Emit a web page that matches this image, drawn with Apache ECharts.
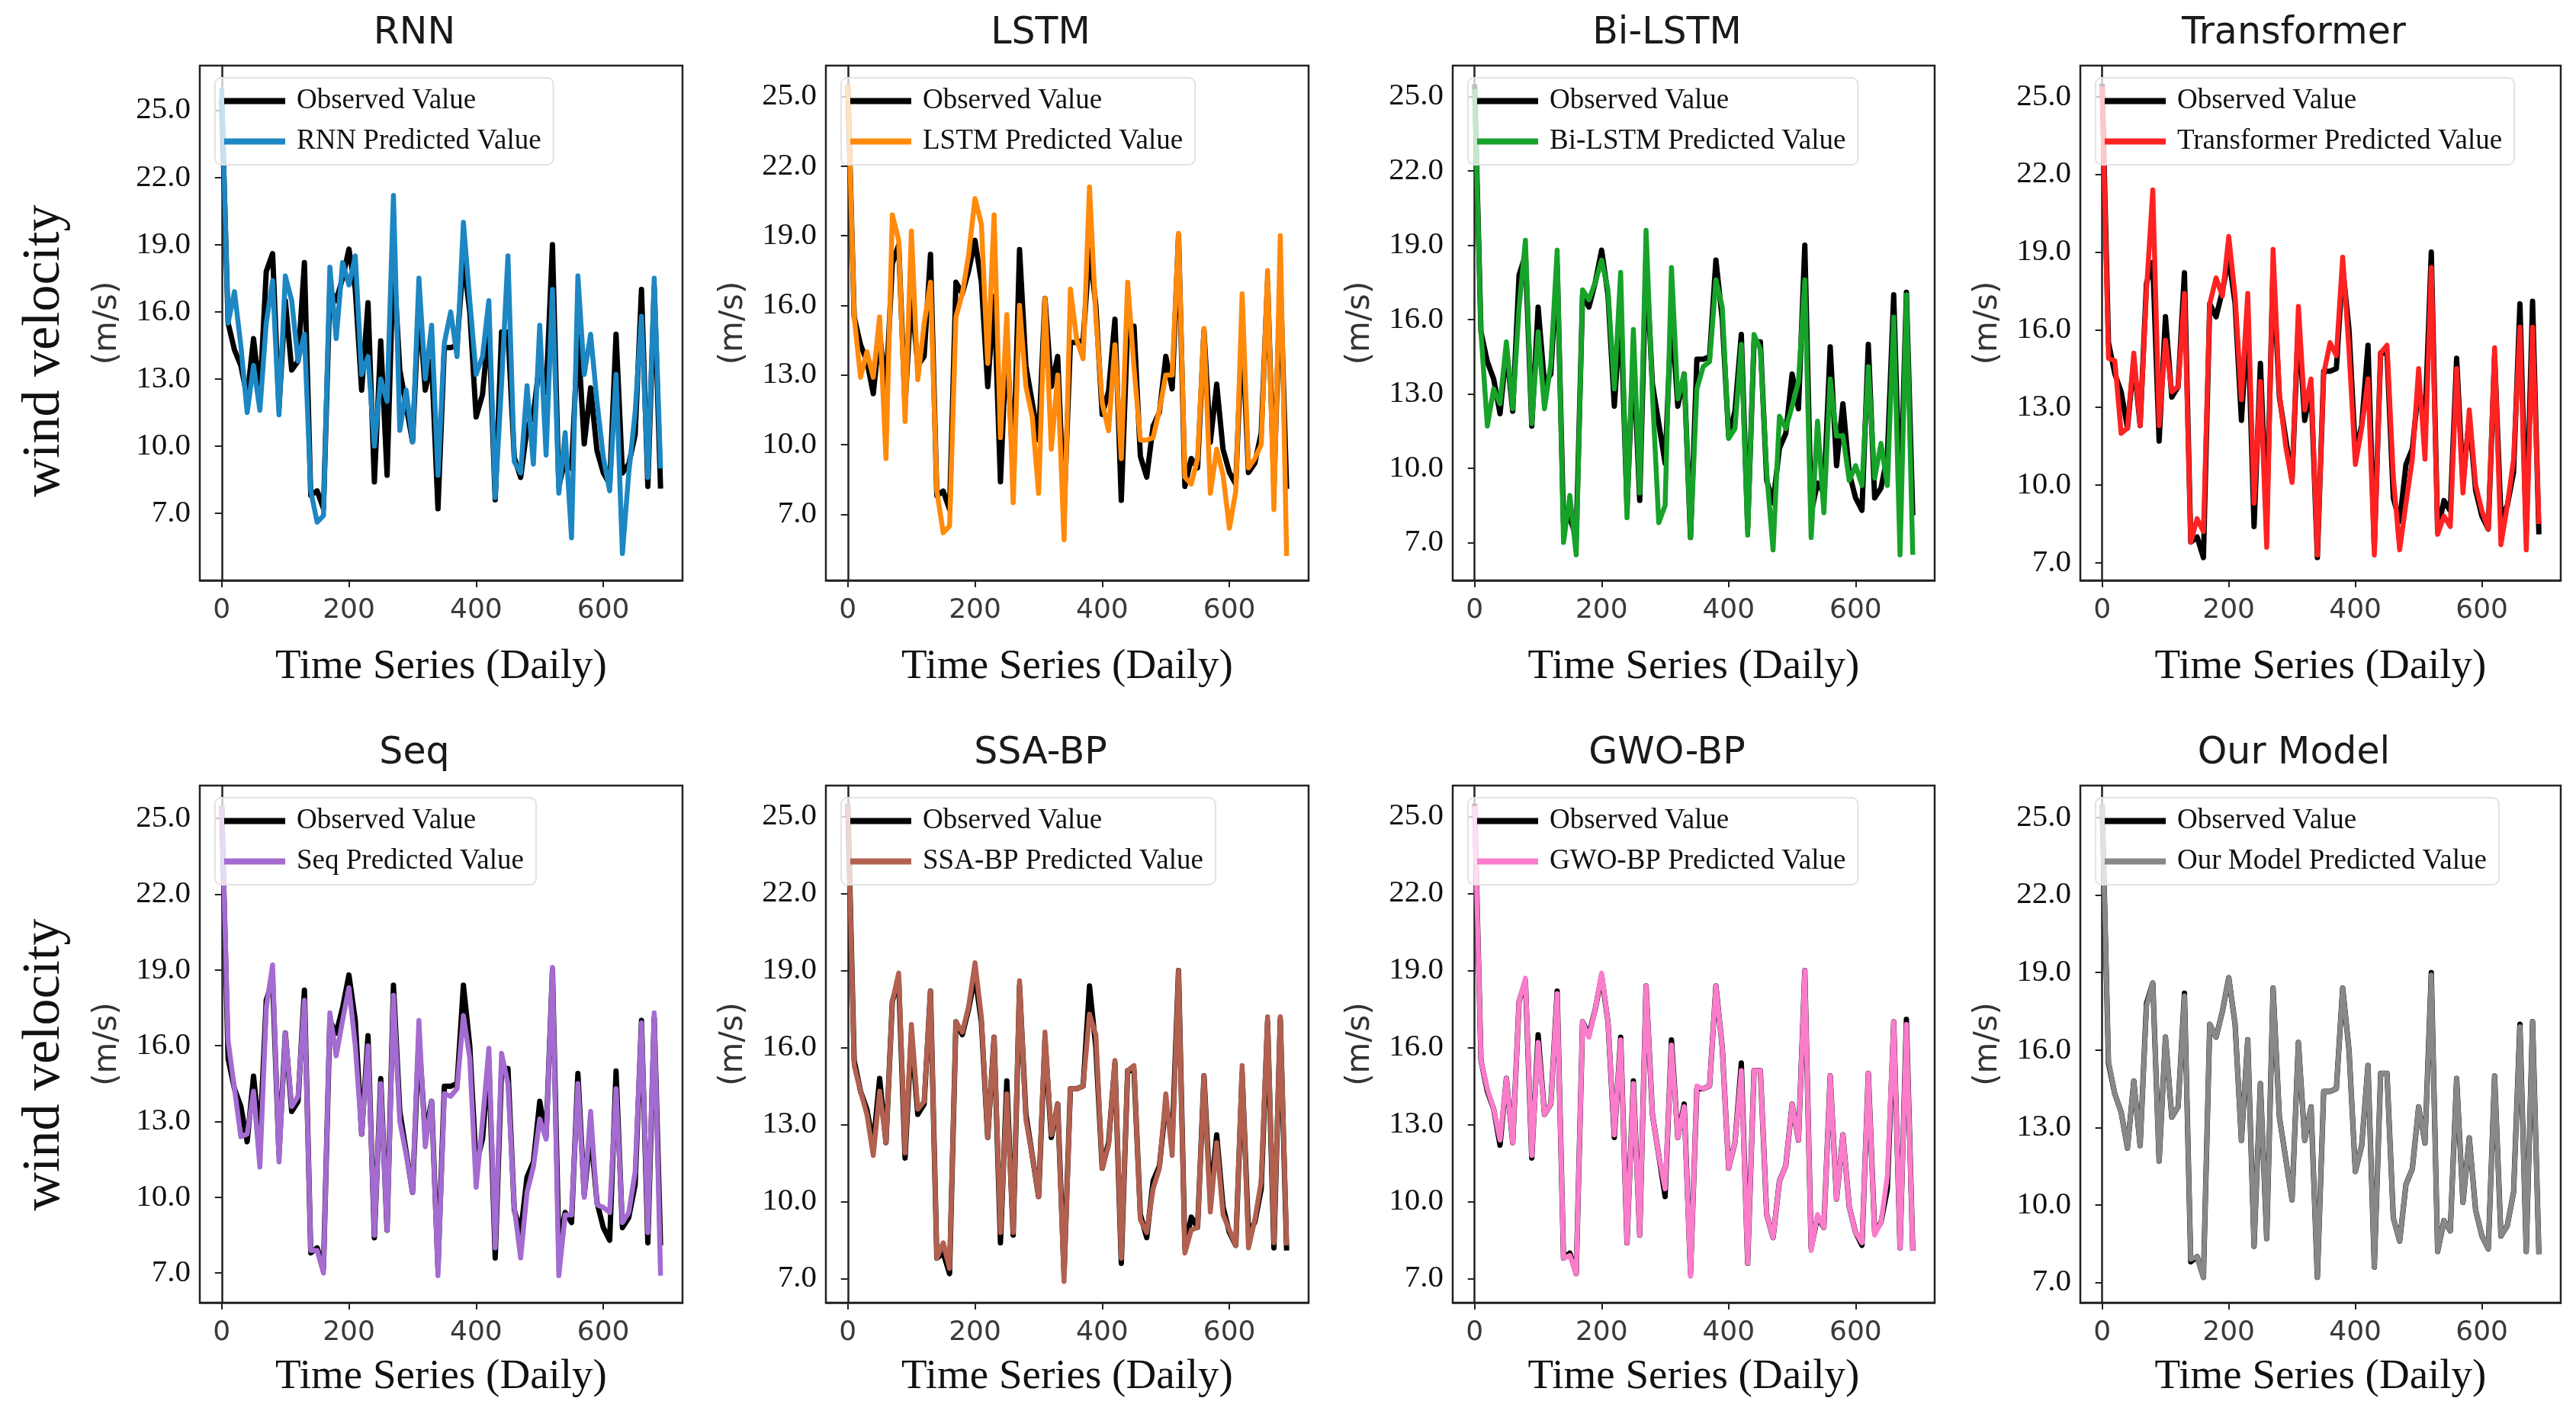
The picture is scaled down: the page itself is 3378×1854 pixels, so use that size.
<!DOCTYPE html>
<html>
<head>
<meta charset="utf-8">
<title>wind velocity</title>
<script src="https://cdn.jsdelivr.net/npm/echarts@6/dist/echarts.min.js"></script>
<style>
  html, body { margin: 0; padding: 0; background: #fff; }
  #main { width: 3378px; height: 1854px; }
</style>
</head>
<body>
<div id="main"></div>
<script>
// 时间轴（天）
var days = [0, 10, 20, 30, 40, 50, 60, 70, 80, 90,
  100, 110, 120, 130, 140, 150, 160, 170, 180, 190,
  200, 210, 220, 230, 240, 250, 260, 270, 280, 290,
  300, 310, 320, 330, 340, 350, 360, 370, 380, 390,
  400, 410, 420, 430, 440, 450, 460, 470, 480, 490,
  500, 510, 520, 530, 540, 550, 560, 570, 580, 590,
  600, 610, 620, 630, 640, 650, 660, 670, 680, 690];

var xTicks = [0, 200, 400, 600];
var yTicks = [7, 10, 13, 16, 19, 22, 25];

// 观测值
var observed = [25.5, 15.5, 14.3, 13.6, 12.2, 14.8, 12.3, 17.8, 18.6, 11.7,
  16.5, 13.4, 13.8, 18.2, 7.8, 8.0, 7.2, 17.0, 16.5, 17.5,
  18.8, 17.0, 12.5, 16.4, 8.4, 14.7, 8.7, 18.4, 13.4, 11.8,
  10.2, 16.3, 12.5, 13.8, 7.2, 14.4, 14.4, 14.5, 18.4, 16.0,
  11.3, 12.3, 15.4, 7.6, 15.1, 15.1, 9.5, 8.6, 10.8, 11.4,
  13.8, 12.4, 19.0, 8.2, 9.4, 9.0, 14.9, 10.1, 12.6, 9.8,
  8.8, 8.3, 15.0, 8.8, 9.2, 10.5, 17.0, 8.2, 17.1, 8.1];

// 各模型预测值
var rnnPred = [26.0, 15.5, 16.9, 14.5, 11.5, 13.6, 11.6, 15.5, 17.4, 11.4,
  17.6, 16.5, 13.8, 15.0, 8.0, 6.6, 6.9, 18.0, 14.8, 18.2,
  17.2, 18.5, 13.2, 14.0, 10.0, 13.0, 12.0, 21.2, 10.7, 12.5,
  10.2, 17.5, 13.0, 15.4, 8.7, 14.6, 16.0, 14.0, 20.0, 16.5,
  13.2, 14.0, 16.5, 7.7, 12.8, 18.5, 9.3, 8.8, 12.7, 9.2,
  15.4, 9.6, 17.0, 7.9, 10.6, 5.9, 17.6, 13.2, 15.0, 12.0,
  9.5, 8.0, 13.2, 5.2, 8.8, 11.5, 15.8, 8.6, 17.5, 9.0];

var lstmPred = [25.5, 15.5, 12.9, 14.0, 12.9, 15.5, 9.4, 19.9, 18.8, 11.0,
  19.2, 12.8, 15.2, 17.0, 8.0, 6.2, 6.5, 15.5, 16.5, 18.2,
  20.6, 19.5, 13.5, 19.9, 10.3, 15.6, 7.5, 16.0, 12.5, 11.2,
  7.9, 16.3, 9.8, 13.0, 5.9, 16.7, 14.5, 13.7, 21.1, 15.5,
  11.8, 10.6, 14.3, 9.4, 17.0, 13.3, 10.2, 10.2, 10.3, 11.5,
  13.0, 13.0, 19.1, 8.6, 8.3, 9.4, 15.0, 7.9, 9.8, 8.7,
  6.4, 8.0, 16.5, 9.0, 9.4, 10.0, 17.5, 7.2, 19.0, 5.2];

var bilstmPred = [25.3, 15.5, 11.7, 13.2, 12.6, 15.1, 12.4, 16.5, 19.2, 11.8,
  15.5, 12.4, 14.2, 18.8, 7.0, 8.9, 6.5, 17.2, 16.8, 17.5,
  18.4, 17.2, 13.2, 17.9, 8.0, 15.6, 9.0, 19.6, 13.0, 7.8,
  8.5, 18.1, 12.8, 13.8, 7.2, 13.2, 14.1, 14.3, 17.6, 16.5,
  11.2, 11.6, 15.0, 7.3, 15.4, 14.8, 9.8, 6.7, 12.1, 11.6,
  12.5, 13.5, 17.6, 7.2, 11.9, 8.2, 13.6, 11.3, 11.3, 9.5,
  10.1, 9.3, 14.1, 9.6, 11.0, 9.3, 16.1, 6.5, 17.0, 6.5];

var transformerPred = [25.4, 14.9, 14.8, 12.0, 12.2, 15.1, 12.3, 17.5, 21.4, 12.3,
  15.6, 13.6, 13.8, 17.4, 7.8, 8.7, 8.2, 17.0, 18.0, 17.3,
  19.6, 17.3, 13.3, 17.4, 9.3, 14.0, 7.6, 19.1, 13.5, 11.5,
  10.1, 16.9, 12.9, 14.1, 7.3, 14.3, 15.5, 15.0, 18.8, 15.2,
  10.8, 12.2, 14.1, 7.3, 15.1, 15.4, 10.3, 7.5, 9.3, 11.0,
  14.5, 11.0, 18.4, 8.1, 8.8, 8.4, 14.5, 9.7, 12.9, 10.0,
  9.0, 8.3, 15.3, 7.7, 9.2, 11.0, 16.1, 7.5, 16.1, 8.5];

var seqPred = [25.5, 16.2, 14.3, 12.4, 12.5, 14.2, 11.2, 17.5, 19.2, 11.4,
  16.5, 13.6, 14.0, 17.8, 7.9, 7.9, 7.0, 17.3, 15.6, 17.0,
  18.3, 16.0, 12.5, 16.0, 8.5, 14.5, 8.7, 18.0, 13.0, 11.7,
  10.2, 17.0, 12.0, 13.8, 6.9, 14.1, 14.0, 14.3, 17.2, 15.5,
  10.4, 13.0, 15.9, 8.0, 15.7, 14.5, 9.6, 7.6, 10.2, 11.2,
  13.1, 12.3, 19.1, 6.9, 9.3, 9.3, 14.5, 10.0, 13.4, 9.7,
  9.6, 9.4, 14.3, 9.0, 9.4, 11.0, 16.9, 8.6, 17.3, 6.9];

var ssabpPred = [25.5, 15.3, 14.3, 13.4, 11.8, 14.3, 12.3, 17.8, 18.9, 11.9,
  16.9, 13.6, 13.9, 18.2, 7.8, 8.4, 7.4, 17.0, 16.6, 17.6,
  19.3, 17.2, 12.5, 16.4, 8.8, 14.2, 8.8, 18.6, 13.2, 11.8,
  10.2, 16.6, 12.6, 13.8, 6.9, 14.4, 14.4, 14.5, 17.3, 16.5,
  11.3, 12.2, 15.5, 7.8, 15.1, 15.3, 9.3, 8.8, 10.5, 11.3,
  14.2, 11.8, 19.0, 8.0, 8.9, 9.0, 14.9, 9.6, 12.3, 9.5,
  8.9, 8.3, 15.3, 8.2, 9.3, 10.8, 17.2, 8.4, 17.2, 8.3];

var gwobpPred = [25.4, 15.5, 14.4, 13.6, 12.4, 14.8, 12.3, 17.8, 18.7, 11.8,
  16.2, 13.4, 13.8, 18.1, 7.8, 7.9, 7.2, 17.0, 16.4, 17.5,
  18.9, 17.0, 12.6, 16.3, 8.4, 14.6, 8.7, 18.4, 13.4, 11.8,
  10.5, 16.1, 12.5, 13.7, 7.1, 14.5, 14.4, 14.5, 18.4, 16.0,
  11.3, 12.3, 15.1, 7.6, 15.1, 15.1, 9.5, 8.6, 10.8, 11.4,
  13.8, 12.4, 19.0, 8.1, 9.5, 9.0, 14.9, 10.1, 12.6, 9.8,
  8.8, 8.4, 15.0, 8.7, 9.2, 11.0, 17.0, 8.2, 16.9, 8.1];

var oursPred = [25.5, 15.6, 14.3, 13.6, 12.2, 14.8, 12.3, 17.7, 18.6, 11.7,
  16.5, 13.4, 13.8, 18.1, 7.9, 8.0, 7.2, 17.0, 16.5, 17.5,
  18.8, 17.0, 12.5, 16.4, 8.4, 14.7, 8.7, 18.4, 13.4, 11.8,
  10.2, 16.3, 12.5, 13.8, 7.2, 14.4, 14.4, 14.5, 18.4, 16.0,
  11.3, 12.3, 15.4, 7.6, 15.1, 15.1, 9.5, 8.6, 10.8, 11.4,
  13.8, 12.4, 18.9, 8.2, 9.4, 9.0, 14.9, 10.1, 12.6, 9.8,
  8.8, 8.3, 15.0, 8.8, 9.2, 10.5, 16.9, 8.2, 17.1, 8.1];

// 每个子图：名称、颜色、预测值、y轴范围
var panels = [
  { name: 'RNN', color: '#1c87c3', pred: rnnPred, yMin: 4.0, yMax: 27.0 },
  { name: 'LSTM', color: '#ff8a0c', pred: lstmPred, yMin: 4.15, yMax: 26.33 },
  { name: 'Bi-LSTM', color: '#17a22a', pred: bilstmPred, yMin: 5.47, yMax: 26.25 },
  { name: 'Transformer', color: '#ff2222', pred: transformerPred, yMin: 6.32, yMax: 26.2 },
  { name: 'Seq', color: '#a46bd0', pred: seqPred, yMin: 5.83, yMax: 26.3 },
  { name: 'SSA-BP', color: '#b2604f', pred: ssabpPred, yMin: 6.07, yMax: 26.2 },
  { name: 'GWO-BP', color: '#fa7ccb', pred: gwobpPred, yMin: 6.07, yMax: 26.2 },
  { name: 'Our Model', color: '#888888', pred: oursPred, yMin: 6.22, yMax: 26.24 }
];

var colLeft = [262, 1083, 1905, 2728];
var colWidth = [633, 633, 632, 630];
var rowTop = [86, 1030];
var rowHeight = [675, 678];
var xNameGap = [86, 70];
var bigLabelY = [460, 1396];

function toPoints(values) {
  return days.map(function (d, k) { return [d, values[k]]; });
}

var myChart = echarts.init(document.getElementById('main'));

var grids = [], xAxes = [], yAxes = [], titles = [], legends = [], series = [];

panels.forEach(function (p, i) {
  var r = Math.floor(i / 4), c = i % 4;
  var predName = p.name + ' Predicted Value';

  grids.push({
    left: colLeft[c], top: rowTop[r], width: colWidth[c], height: rowHeight[r],
    show: true, borderColor: '#222', borderWidth: 2.5, backgroundColor: '#fff'
  });

  // 标题略偏左，与原图一致
  titles.push({
    text: p.name,
    left: colLeft[c] + colWidth[c] / 2 - 40,
    top: rowTop[r] - 71,
    textAlign: 'center',
    textStyle: { fontFamily: 'DejaVu Sans', fontSize: 49, fontWeight: 'normal', color: '#1a1a1a' }
  });

  xAxes.push({
    gridIndex: i, type: 'value', min: -34.5, max: 724.5,
    splitLine: { show: false },
    axisLine: { show: true, lineStyle: { color: '#222', width: 2.5 } },
    axisTick: { show: true, length: 9, customValues: xTicks, lineStyle: { color: '#222', width: 2 } },
    axisLabel: { customValues: xTicks, margin: 22, fontFamily: 'DejaVu Sans', fontSize: 36, color: '#3a3a3a' },
    name: 'Time Series (Daily)', nameLocation: 'middle', nameGap: xNameGap[r],
    nameTextStyle: { fontFamily: 'Liberation Serif', fontSize: 55, color: '#111' }
  });

  yAxes.push({
    gridIndex: i, type: 'value', min: p.yMin, max: p.yMax,
    splitLine: { show: false },
    axisLine: { show: true, lineStyle: { color: '#222', width: 2.5 } },
    axisTick: { show: true, length: 9, customValues: yTicks, lineStyle: { color: '#222', width: 2 } },
    axisLabel: {
      customValues: yTicks, margin: 12,
      formatter: function (v) { return v.toFixed(1); },
      fontFamily: 'Liberation Serif', fontSize: 41, color: '#111'
    },
    name: '(m/s)', nameLocation: 'middle', nameRotate: 90, nameGap: 100,
    nameTextStyle: { fontFamily: 'DejaVu Sans', fontSize: 42, color: '#333' }
  });

  legends.push({
    orient: 'vertical',
    left: colLeft[c] + 20, top: rowTop[r] + 16,
    data: ['Observed Value', predName],
    icon: 'rect', itemWidth: 80, itemHeight: 8, itemGap: 16,
    textStyle: { fontFamily: 'Liberation Serif', fontSize: 37, color: '#111', padding: [0, 0, 0, 10] },
    backgroundColor: 'rgba(255,255,255,0.75)',
    borderColor: '#e2e2e2', borderWidth: 2, borderRadius: 8,
    padding: [12, 16, 12, 12]
  });

  series.push({
    name: 'Observed Value', type: 'line', xAxisIndex: i, yAxisIndex: i,
    data: toPoints(observed), symbol: 'none', showSymbol: false,
    itemStyle: { color: '#000' }, lineStyle: { color: '#000', width: 7, join: 'round' }
  });
  series.push({
    name: predName, type: 'line', xAxisIndex: i, yAxisIndex: i,
    data: toPoints(p.pred), symbol: 'none', showSymbol: false,
    itemStyle: { color: p.color }, lineStyle: { color: p.color, width: 6.5, join: 'round' }
  });
});

var option = {
  backgroundColor: '#fff',
  animation: false,
  title: titles,
  legend: legends,
  grid: grids,
  xAxis: xAxes,
  yAxis: yAxes,
  series: series,
  graphic: bigLabelY.map(function (y) {
    return {
      type: 'text', x: 59, y: y, rotation: Math.PI / 2,
      style: {
        text: 'wind velocity', font: '70px "Liberation Serif"', fill: '#111',
        textAlign: 'center', textVerticalAlign: 'middle', align: 'center', verticalAlign: 'middle'
      }
    };
  })
};

myChart.setOption(option);
</script>
</body>
</html>
